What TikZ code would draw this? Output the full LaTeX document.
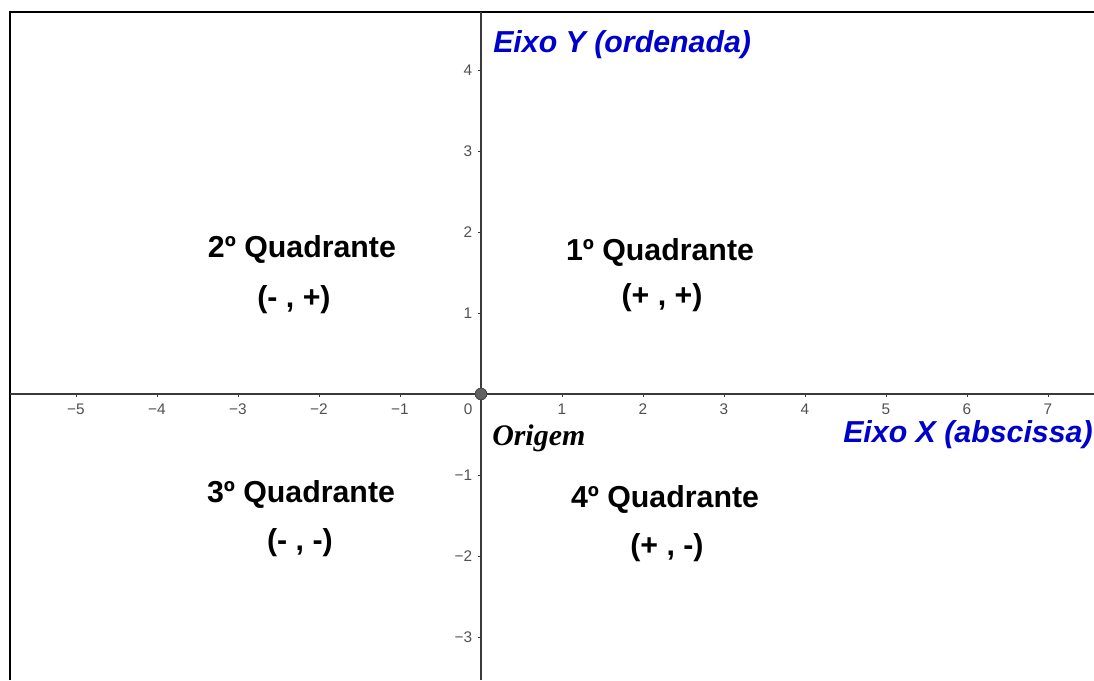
\documentclass[tikz,border=0pt]{standalone}
\usepackage{fontspec}
\setmainfont{Liberation Sans}
\newfontfamily\origemfont{Liberation Serif}
\usepackage{tikz}
\usetikzlibrary{positioning}
\definecolor{EixoBlue}{RGB}{0,0,204}
\definecolor{AxisGray}{HTML}{3A3A3A}
\definecolor{TickGray}{HTML}{505050}

\begin{document}
\begin{tikzpicture}[
    x=2cm, y=2cm,
    frame/.style={black, line width=1.4pt},
    axis/.style={AxisGray, line width=0.9pt},
    tickmark/.style={AxisGray, line width=0.6pt},
    numx/.style={anchor=center, inner sep=0pt, font=\fontsize{10.8}{12}\selectfont, text=TickGray},
    numy/.style={anchor=east, inner sep=0pt, font=\fontsize{10.8}{12}\selectfont, text=TickGray},
    quad/.style={anchor=center, inner sep=0pt, font=\fontsize{21.3}{25}\selectfont\bfseries},
    eixo/.style={anchor=base west, inner sep=0pt, font=\fontsize{21.3}{25}\selectfont\bfseries\itshape, text=EixoBlue},
  ]
  \useasboundingbox (-5.938,-3.531) rectangle (7.568,4.864);
  % --- moldura (cantos superior e esquerdo) ---
  \coordinate (fbl) at (-5.809,-3.531);
  \coordinate (ftl) at (-5.809,4.716);
  \coordinate (ftr) at (7.568,4.716);
  \draw[frame] (fbl) -- (ftl) -- (ftr);
  % --- eixos ---
  \coordinate (xl) at (-5.809,0);
  \coordinate (xr) at (7.568,0);
  \coordinate (yt) at (0,4.716);
  \coordinate (yb) at (0,-3.531);
  \draw[axis] (xl) -- (xr);
  \draw[axis] (yb) -- (yt);
  % marcas e numeros do eixo x
  \foreach \k/\lab in {-5/−5, -4/−4, -3/−3, -2/−2, -1/−1, 1/1, 2/2, 3/3, 4/4, 5/5, 6/6, 7/7}{
    \draw[tickmark] (\k,0) -- (\k,-0.04);
    \node[numx] (nx\k) at (\k,-0.185) {\lab};
  }
  % marcas e numeros do eixo y
  \foreach \k/\lab in {-3/−3, -2/−2, -1/−1, 1/1, 2/2, 3/3, 4/4}{
    \draw[tickmark] (0,\k) -- (-0.04,\k);
    \node[numy] (ny\k) at (-0.105,\k) {\lab};
  }
  \node[numx] (n0) at (-0.16,-0.185) {0};
  % --- origem ---
  \node[circle, fill=black!62, draw=black!75, line width=0.5pt, minimum size=0.29cm, inner sep=0pt] (O) at (0,0) {};
  \node[anchor=base west, inner sep=0pt, font=\fontsize{21}{25}\selectfont\origemfont\bfseries\itshape] (origem) at (0.136,-0.63) {Origem};
  % --- nomes dos eixos ---
  \node[eixo] (eixoy) at (0.148,4.21) {Eixo Y (ordenada)};
  \node[eixo] (eixox) at (4.469,-0.593) {Eixo X (abscissa)};
  % --- quadrantes ---
  \node[quad] (q2) at (-2.21,1.78) {2º Quadrante};
  \node[quad] (s2) at (-2.309,1.168) {(- , +)};
  \node[quad] (q1) at (2.21,1.745) {1º Quadrante};
  \node[quad] (s1) at (2.235,1.19) {(+ , +)};
  \node[quad] (q3) at (-2.222,-1.243) {3º Quadrante};
  \node[quad] (s3) at (-2.235,-1.832) {(- , -)};
  \node[quad] (q4) at (2.272,-1.305) {4º Quadrante};
  \node[quad] (s4) at (2.296,-1.894) {(+ , -)};
\end{tikzpicture}
\end{document}
